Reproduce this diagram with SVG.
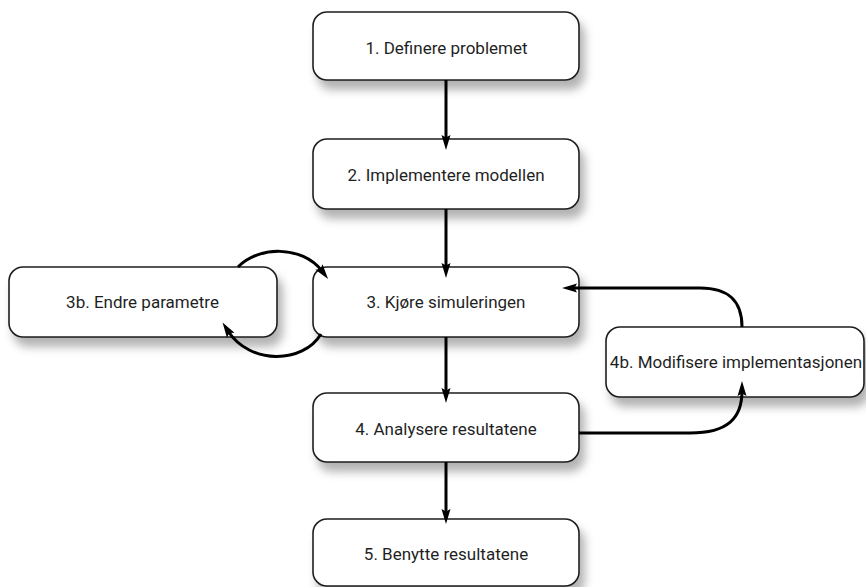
<svg xmlns="http://www.w3.org/2000/svg" width="866" height="587" viewBox="0 0 866 587">
  <style>
    .box { fill: #ffffff; stroke: #1e1e1e; stroke-width: 1.6; filter: url(#shadow); }
    .label { font-family: Roboto, "Liberation Sans", sans-serif; font-size: 17px; fill: #1f1f1f; text-anchor: middle; }
    .edge { fill: none; stroke: #000; stroke-width: 3; marker-end: url(#ah); }
  </style>
  <defs>
    <filter id="shadow" x="-10%" y="-30%" width="125%" height="180%">
      <feDropShadow dx="5" dy="9" stdDeviation="5" flood-color="#000" flood-opacity="0.3"/>
    </filter>
    <marker id="ah" markerUnits="userSpaceOnUse" viewBox="-6 -5 17 10" markerWidth="17" markerHeight="10" refX="0" refY="0" orient="auto">
      <path d="M10,0 L-5,-4.5 L-2.5,0 L-5,4.5 Z" fill="#000"/>
    </marker>
  </defs>

  <rect width="866" height="587" fill="#ffffff"/>

  <g id="n1">
    <rect class="box" x="313" y="12" width="266" height="68" rx="14"/>
    <text class="label" x="446.5" y="54">1. Definere problemet</text>
  </g>
  <g id="n2">
    <rect class="box" x="313" y="139" width="266" height="70" rx="14"/>
    <text class="label" x="446" y="181">2. Implementere modellen</text>
  </g>
  <g id="n3">
    <rect class="box" x="313" y="267" width="266" height="70" rx="14"/>
    <text class="label" x="446" y="308">3. Kjøre simuleringen</text>
  </g>
  <g id="n3b">
    <rect class="box" x="9" y="267" width="268" height="70" rx="14"/>
    <text class="label" x="142.5" y="308">3b. Endre parametre</text>
  </g>
  <g id="n4">
    <rect class="box" x="313" y="393" width="266" height="69" rx="14"/>
    <text class="label" x="446" y="435">4. Analysere resultatene</text>
  </g>
  <g id="n4b">
    <rect class="box" x="606" y="327" width="258" height="70" rx="14"/>
    <text class="label" x="736" y="368">4b. Modifisere implementasjonen</text>
  </g>
  <g id="n5">
    <rect class="box" x="313" y="519" width="266" height="67" rx="14"/>
    <text class="label" x="446" y="560">5. Benytte resultatene</text>
  </g>

  <g id="connectors">
    <path class="edge" d="M446,80 L446,140"/>
    <path class="edge" d="M446,209 L446,268"/>
    <path class="edge" d="M446,337 L446,393"/>
    <path class="edge" d="M446,462 L446,514"/>
    <path class="edge" d="M238,267 C258,246 302,245 322,271"/>
    <path class="edge" d="M321,334 C303,364 250,365 228,331"/>
    <path class="edge" d="M579,433 L690,433 C728,433 742,418 742,391"/>
    <path class="edge" d="M742,327 C742,300 728,288 700,288 L572,288"/>
  </g>
</svg>
